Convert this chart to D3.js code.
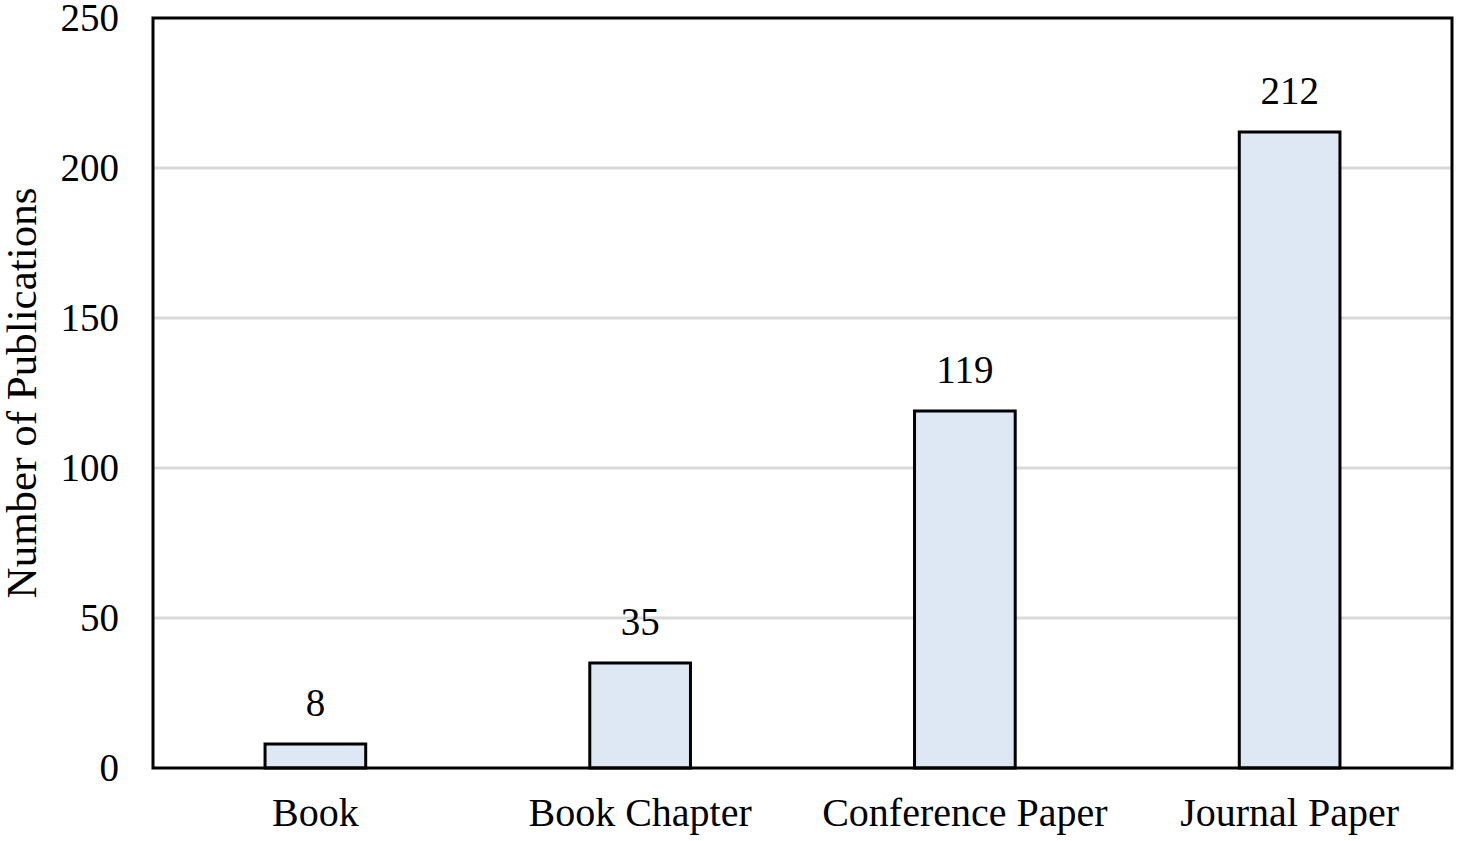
<!DOCTYPE html>
<html><head><meta charset="utf-8">
<script src="https://cdn.jsdelivr.net/npm/d3@7"></script>
<style>body{margin:0;background:#fff}svg{display:block}text{font-family:"Liberation Serif","Times New Roman",serif;fill:#000}</style>
</head><body><svg id="c" width="1458" height="841"></svg>
<script>
const categories = ["Book", "Book Chapter", "Conference Paper", "Journal Paper"];
const values = [8, 35, 119, 212];
const yTicks = [0, 50, 100, 150, 200, 250];
const yLabel = "Number of Publications";

const svg = d3.select("#c");
const m = {l:153, r:1452, t:18, b:768};
const x = d3.scaleBand().domain(categories).range([m.l, m.r]).padding(0);
const y = d3.scaleLinear().domain([0, 250]).range([m.b, m.t]);
const barW = x.bandwidth() * 0.31;

// gridlines
svg.append("g").selectAll("line").data(yTicks.filter(d => d > 0 && d < 250)).join("line")
  .attr("x1", m.l).attr("x2", m.r).attr("y1", d => y(d)).attr("y2", d => y(d))
  .attr("stroke", "#d9d9d9").attr("stroke-width", 3);

// bars
svg.append("g").selectAll("rect").data(values).join("rect")
  .attr("x", (d, i) => x(categories[i]) + x.bandwidth()/2 - barW/2)
  .attr("width", barW)
  .attr("y", d => y(d)).attr("height", d => y(0) - y(d))
  .attr("fill", "#dee8f4").attr("stroke", "#000").attr("stroke-width", 3);

// data labels
svg.append("g").selectAll("text").data(values).join("text")
  .attr("x", (d, i) => x(categories[i]) + x.bandwidth()/2)
  .attr("y", d => y(d) - 28)
  .attr("text-anchor", "middle").attr("font-size", 39).text(d => d);

// frame
svg.append("rect").attr("x", m.l).attr("y", m.t).attr("width", m.r - m.l).attr("height", m.b - m.t)
  .attr("fill", "none").attr("stroke", "#000").attr("stroke-width", 3);

// y axis
const ya = svg.append("g").attr("transform", `translate(${m.l},0)`)
  .call(d3.axisLeft(y).tickValues(yTicks).tickSize(0).tickPadding(34));
ya.select(".domain").remove();
ya.selectAll("text").attr("font-size", 39).attr("font-family", '"Liberation Serif", serif').attr("fill", "#000");

// x axis
const xa = svg.append("g").attr("transform", `translate(0,${m.b})`)
  .call(d3.axisBottom(x).tickSize(0).tickPadding(30));
xa.select(".domain").remove();
xa.selectAll("text").attr("font-size", 40).attr("font-family", '"Liberation Serif", serif').attr("fill", "#000");

// y label
svg.append("text").attr("transform", `translate(36,${(m.t+m.b)/2+0}) rotate(-90)`)
  .attr("text-anchor", "middle").attr("font-size", 43).text(yLabel);
</script></body></html>
